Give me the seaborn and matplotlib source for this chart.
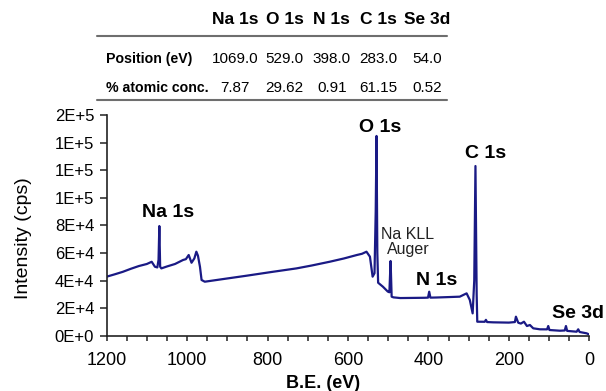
import matplotlib
matplotlib.use("Agg")
import matplotlib.pyplot as plt
from matplotlib.lines import Line2D
from matplotlib.ticker import FuncFormatter, MultipleLocator
import seaborn as sns
import pandas as pd

# ---- data ----
binding_energy = [1200, 1180, 1160, 1140, 1120, 1100, 1088, 1080, 1074, 1071, 1069, 1067,
                  1064, 1050, 1030, 1010, 1003, 996, 989, 982, 977, 973, 968, 964, 956,
                  900, 852, 790, 728, 690, 645, 610, 578, 565, 554, 545.4, 538.7, 534,
                  531, 529, 527, 525, 513, 501, 497, 494, 491.4, 487, 470, 440, 410, 401,
                  398, 395, 380, 350, 322, 305, 297, 290, 286, 283, 280, 278.5, 260, 257,
                  254, 239, 200, 185, 182.4, 176.6, 170, 162.4, 155, 147.6, 139.3, 122.7,
                  105, 102, 99, 72.9, 61, 58, 55, 31.5, 27.5, 24, 6.6, 0]
intensity = [42800, 44500, 46300, 48500, 50500, 52000, 53600, 50000, 49500, 55000, 79500, 50000,
             48800, 50200, 52000, 54900, 55500, 58500, 52900, 56000, 60900, 58000, 50000, 40400, 39150,
             41500, 43500, 46200, 48800, 50900, 53650, 56000, 58500, 59400, 60900, 57300, 42800, 45300,
             90000, 144800, 60000, 38400, 35500, 32000, 31500, 54150, 28300, 27800, 27300, 27400, 27500, 27600,
             31900, 27600, 27700, 28000, 28300, 30700, 25900, 16200, 40000, 123000, 30000, 10150, 10100, 11500,
             9900, 9700, 9500, 9900, 13800, 9400, 8800, 10150, 7030, 7760, 5360, 4640,
             4600, 7030, 4130, 3620, 3800, 7030, 3500, 2900, 4640, 2700, 1740, 870]

peak_labels = ["Na 1s", "O 1s", "Na KLL\nAuger", "N 1s", "C 1s", "Se 3d"]
peak_label_x = [1047.6, 520.4, 450.8, 379.5, 256.9, 28.1]
peak_label_y = [89460, 150940, 67930, 40380, 132230, 16240]
peak_label_bold = [True, True, False, True, True, True]

table_columns = ["Na 1s", "O 1s", "N 1s", "C 1s", "Se 3d"]
table_rows = ["Position (eV)", "% atomic conc."]
position_ev = ["1069.0", "529.0", "398.0", "283.0", "54.0"]
atomic_conc = ["7.87", "29.62", "0.91", "61.15", "0.52"]

y_ticks = [0, 20000, 40000, 60000, 80000, 100000, 120000, 140000, 160000]

# ---- plotting ----
sns.set_style("ticks")
plt.rcParams["font.family"] = ["Liberation Sans", "DejaVu Sans"]
plt.rcParams["text.color"] = "black"
plt.rcParams["axes.labelcolor"] = "black"

fig = plt.figure(figsize=(6.06, 3.91), dpi=100)
ax = fig.add_axes([0.176, 0.1414, 0.7964, 0.5645])

df = pd.DataFrame({"BE": binding_energy, "I": intensity})
sns.lineplot(data=df, x="BE", y="I", ax=ax, color="#1a1a85", linewidth=1.6,
             estimator=None, sort=False)

ax.set_xlim(1200, 0)
ax.set_ylim(0, 160000)
ax.set_yticks(y_ticks)


def sci_fmt(v, pos):
    s = "{:.0E}".format(v)
    mant, exp = s.split("E")
    sign = exp[0]
    num = str(int(exp[1:]))
    return f"{mant}E{sign}{num}"


ax.yaxis.set_major_formatter(FuncFormatter(sci_fmt))
ax.xaxis.set_major_locator(MultipleLocator(200))
ax.xaxis.set_minor_locator(MultipleLocator(50))
ax.xaxis.set_major_formatter(FuncFormatter(lambda v, p: f"{int(round(v))}"))

for side in ["top", "right"]:
    ax.spines[side].set_visible(False)
for side in ["left", "bottom"]:
    ax.spines[side].set_color("#222222")
    ax.spines[side].set_linewidth(1.2)

ax.tick_params(axis="y", which="major", direction="out", length=5, width=1.1,
               pad=4, labelsize=12, colors="#222222", labelcolor="black")
ax.tick_params(axis="x", which="both", direction="out", length=3.8, width=1.1,
               pad=8, labelsize=13, colors="#222222", labelcolor="black")

ax.set_xlabel("B.E. (eV)", fontsize=13, fontweight="bold")
ax.xaxis.set_label_coords(0.448, -0.178)
ax.set_ylabel("Intensity (cps)", fontsize=14)
ax.yaxis.set_label_coords(-0.1554, 0.441)

for lab, lx, ly, b in zip(peak_labels, peak_label_x, peak_label_y, peak_label_bold):
    if b:
        ax.text(lx, ly, lab, ha="center", va="center", fontsize=14, fontweight="bold")
    else:
        ax.text(lx, ly, lab, ha="center", va="center", fontsize=11.5, linespacing=1.0,
                color="#222222")

# ---- table above the plot ----
col_x = [235 / 606, 284.5 / 606, 331.7 / 606, 378 / 606, 427 / 606]
header_y = 1 - 20 / 391
row_y = [1 - 59 / 391, 1 - 88 / 391]
row_label_x = 106 / 606

for cx, name in zip(col_x, table_columns):
    fig.text(cx, header_y, name, ha="center", va="center", fontsize=12.5, fontweight="bold")
for ry, rlab, vals in zip(row_y, table_rows, [position_ev, atomic_conc]):
    fig.text(row_label_x, ry, rlab, ha="left", va="center", fontsize=10.2, fontweight="bold")
    for cx, v in zip(col_x, vals):
        fig.text(cx, ry, v, ha="center", va="center", fontsize=11)

for ly in [1 - 36 / 391, 1 - 99.5 / 391]:
    fig.add_artist(Line2D([97 / 606, 447 / 606], [ly, ly], transform=fig.transFigure,
                          color="#6e6e6e", linewidth=1.5))

fig.savefig("out.png", dpi=100)
